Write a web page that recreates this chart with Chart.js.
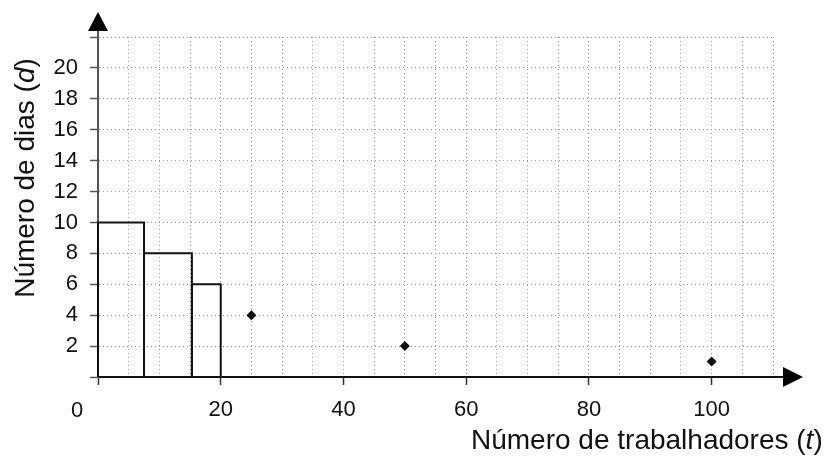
<!DOCTYPE html>
<html>
<head>
<meta charset="utf-8">
<script src="https://cdn.jsdelivr.net/npm/chart.js@4.4.0/dist/chart.umd.min.js"></script>
<style>
html,body{margin:0;padding:0;background:#fff;}
#wrap{width:830px;height:464px;}
</style>
</head>
<body>
<div id="wrap"><canvas id="c" width="830" height="464"></canvas></div>
<script>
// ---- data ----
const barStart = [0, 7.5, 15.3];
const barEnd = [7.5, 15.3, 20];
const barDays = [10, 8, 6];
const pointWorkers = [25, 50, 100];
const pointDays = [4, 2, 1];
const xTickLabels = [20, 40, 60, 80, 100];
const yTickLabels = [2, 4, 6, 8, 10, 12, 14, 16, 18, 20];
const originLabel = '0';
const xTitleText = 'Número de trabalhadores (';
const xTitleVar = 't';
const yTitleText = 'Número de dias (';
const yTitleVar = 'd';

const FONT = "'Liberation Sans', Arial, Helvetica, sans-serif";
const INK = '#111';

const datasets = barStart.map((s, i) => ({
  type: 'line',
  data: [
    {x: s, y: 0}, {x: s, y: barDays[i]},
    {x: barEnd[i], y: barDays[i]}, {x: barEnd[i], y: 0}
  ],
  borderColor: INK,
  borderWidth: 2,
  pointRadius: 0,
  fill: false,
  tension: 0,
  clip: false
}));
datasets.push({
  type: 'scatter',
  data: pointWorkers.map((x, i) => ({x: x, y: pointDays[i]})),
  pointStyle: 'rectRot',
  pointRadius: 5,
  backgroundColor: INK,
  borderColor: INK,
  borderWidth: 0
});

function drawMixed(ctx, parts, size) {
  let total = 0;
  parts.forEach(p => {
    ctx.font = (p.italic ? 'italic ' : '') + size + 'px ' + FONT;
    p.w = ctx.measureText(p.t).width;
    total += p.w;
  });
  return total;
}

const extras = {
  id: 'extras',
  afterDraw(chart) {
    const ctx = chart.ctx;
    const xs = chart.scales.x, ys = chart.scales.y;
    const x0 = xs.getPixelForValue(0);
    const y0 = ys.getPixelForValue(0);
    const area = chart.chartArea;
    ctx.save();
    // y-axis extension and arrow
    ctx.strokeStyle = '#555';
    ctx.lineWidth = 2;
    ctx.beginPath();
    ctx.moveTo(x0, area.top);
    ctx.lineTo(x0, 30);
    ctx.stroke();
    ctx.fillStyle = '#000';
    ctx.beginPath();
    ctx.moveTo(x0, 12);
    ctx.lineTo(x0 - 10, 31);
    ctx.lineTo(x0 + 10, 31);
    ctx.closePath();
    ctx.fill();
    // x-axis extension and arrow
    ctx.strokeStyle = INK;
    ctx.beginPath();
    ctx.moveTo(area.right, y0);
    ctx.lineTo(784, y0);
    ctx.stroke();
    ctx.beginPath();
    ctx.moveTo(803, y0);
    ctx.lineTo(783, y0 - 10);
    ctx.lineTo(783, y0 + 10);
    ctx.closePath();
    ctx.fill();
    // origin label
    ctx.fillStyle = INK;
    ctx.font = '22px ' + FONT;
    ctx.textAlign = 'center';
    ctx.textBaseline = 'middle';
    ctx.fillText(originLabel, x0 - 21, 411);
    // x title
    const xParts = [{t: xTitleText}, {t: xTitleVar, italic: true}, {t: ')'}];
    const size = 28;
    drawMixed(ctx, xParts, size);
    ctx.textAlign = 'left';
    ctx.textBaseline = 'alphabetic';
    let cx = 471;
    xParts.forEach(p => {
      ctx.font = (p.italic ? 'italic ' : '') + size + 'px ' + FONT;
      ctx.fillText(p.t, cx, 449);
      cx += p.w;
    });
    // y title
    const yParts = [{t: yTitleText}, {t: yTitleVar, italic: true}, {t: ')'}];
    const tw = drawMixed(ctx, yParts, size);
    ctx.translate(26, 178);
    ctx.rotate(-Math.PI / 2);
    ctx.textBaseline = 'middle';
    let cy = -tw / 2;
    yParts.forEach(p => {
      ctx.font = (p.italic ? 'italic ' : '') + size + 'px ' + FONT;
      ctx.fillText(p.t, cy, 0);
      cy += p.w;
    });
    ctx.restore();
  }
};

new Chart(document.getElementById('c'), {
  type: 'scatter',
  data: {datasets: datasets},
  options: {
    responsive: false,
    animation: false,
    devicePixelRatio: 1,
    layout: {padding: {top: 37, right: 57, left: 0, bottom: 0}},
    plugins: {legend: {display: false}, tooltip: {enabled: false}},
    scales: {
      x: {
        type: 'linear',
        min: 0, max: 110,
        afterFit(scale) { scale.height = 87; },
        ticks: {
          stepSize: 5,
          autoSkip: false,
          maxRotation: 0,
          padding: 12,
          color: INK,
          font: {family: FONT, size: 22},
          callback: v => xTickLabels.includes(v) ? String(v) : ''
        },
        grid: {
          color: '#9a9a9a',
          lineWidth: 1,
          tickLength: 8,
          tickWidth: 1.5,
          tickColor: c => (c.tick && c.tick.value % 20 === 0) ? '#333' : 'rgba(0,0,0,0)'
        },
        border: {color: INK, width: 2, dash: [1, 3]}
      },
      y: {
        type: 'linear',
        min: 0, max: 22,
        afterFit(scale) { scale.width = 98; },
        ticks: {
          stepSize: 2,
          autoSkip: false,
          padding: 12,
          color: INK,
          font: {family: FONT, size: 22},
          callback: v => yTickLabels.includes(v) ? String(v) : ''
        },
        grid: {
          color: '#9a9a9a',
          lineWidth: 1,
          tickLength: 8,
          tickWidth: 1.5,
          tickColor: '#555'
        },
        border: {color: '#555', width: 2, dash: [1, 3]}
      }
    }
  },
  plugins: [extras]
});
</script>
</body>
</html>
